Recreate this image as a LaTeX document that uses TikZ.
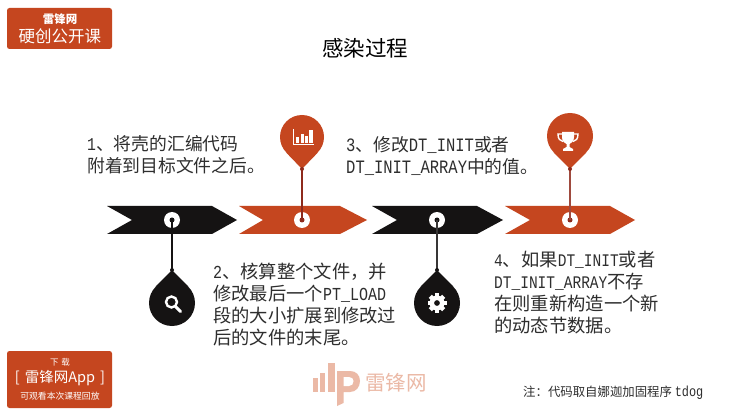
\documentclass[tikz,border=0pt]{standalone}
\usepackage{fontspec}
\setmainfont{Noto Sans CJK SC}
\newfontfamily\lat[FakeStretch=0.82]{Liberation Mono}
\definecolor{brand}{HTML}{C5461F}
\definecolor{ink}{HTML}{151313}
\definecolor{wire}{HTML}{8E2A1C}
\definecolor{wm}{HTML}{EBB9A6}
\definecolor{txt}{HTML}{2E2E2E}
\newcommand{\fsA}{\fontsize{17.8}{24}\selectfont}
\newcommand{\fsB}{\fontsize{18.3}{24}\selectfont}
\newcommand{\la}[2][18]{{\lat\fontsize{#1}{24}\selectfont #2}}
\tikzset{
  x=1pt,y=-1pt,
  para/.style={anchor=north west,inner sep=0pt,align=left,text=txt},
  arrowA/.style={fill=ink},
  arrowB/.style={fill=brand},
  hole/.style={circle,fill=white,inner sep=0pt,minimum size=16pt},
  head/.style={circle,inner sep=0pt,minimum size=#1},
  dotmark/.style={circle,inner sep=0pt,minimum size=5pt},
  badge/.style={fill=brand,rounded corners=2.5pt},
  badgetxt/.style={text=white,inner sep=0pt},
}
\begin{document}
\begin{tikzpicture}
\useasboundingbox (0,0) rectangle (740,417);
\fill[white] (0,0) rectangle (740,417);

% title
\node[inner sep=0pt,text=black,font=\fontsize{21.5}{24}\selectfont] (title) at (365,48) {感染过程};

% badges
\fill[badge] (7,8) rectangle (112,49);
\node[badgetxt,font=\fontsize{11.5}{14}\bfseries\selectfont] (b1) at (60,19) {雷锋网};
\node[badgetxt,font=\fontsize{16.5}{18}\selectfont] (b2) at (60,36) {硬创公开课};
\fill[badge] (7,351) rectangle (112,408);
\node[badgetxt,font=\fontsize{8.5}{10}\selectfont] (b3) at (60,362) {下\,\,载};
\node[badgetxt,font=\fontsize{14.5}{16}\selectfont] (b4) at (60,378) {[\hspace{5pt}雷锋网App\hspace{5pt}]};
\node[badgetxt,font=\fontsize{8.8}{10}\selectfont] (b5) at (60,396) {可观看本次课程回放};

% chevrons
\fill[arrowA] (107,206) -- (212,206) -- (237,220) -- (212,234) -- (107,234) -- (132,220) -- cycle;
\fill[arrowB] (239,206) -- (340,206) -- (367,220) -- (340,234) -- (239,234) -- (263,220) -- cycle;
\fill[arrowA] (372,206) -- (477,206) -- (503,220) -- (477,234) -- (372,234) -- (397,220) -- cycle;
\fill[arrowB] (505,206) -- (610,206) -- (635,220) -- (610,234) -- (505,234) -- (530,220) -- cycle;

% holes
\node[hole] (h1) at (172,220) {};
\node[hole] (h2) at (302,220) {};
\node[hole] (h3) at (437,220) {};
\node[hole] (h4) at (570,220) {};

% pin heads
\node[head=44pt,fill=brand] (p2) at (302,137) {};
\coordinate (t2) at (302,169);
\fill[brand] (p2.225) -- (t2) -- (p2.315) -- cycle;
\node[head=46pt,fill=brand] (p4) at (570,136) {};
\coordinate (t4) at (570,169);
\fill[brand] (p4.225) -- (t4) -- (p4.315) -- cycle;
\node[head=46pt,fill=ink] (p1) at (172,303) {};
\coordinate (t1) at (172,270);
\fill[ink] (p1.135) -- (t1) -- (p1.45) -- cycle;
\node[head=46pt,fill=ink] (p3) at (437,303) {};
\coordinate (t3) at (437,270);
\fill[ink] (p3.135) -- (t3) -- (p3.45) -- cycle;

% connectors
\node[dotmark,fill=ink] (d1) at (172,220) {};
\node[dotmark,fill=wire] (d2) at (302,220) {};
\node[dotmark,fill=ink] (d3) at (437,220) {};
\node[dotmark,fill=wire] (d4) at (570,220) {};
\draw[ink,line width=1.1pt] (d1.center) -- (t1);
\draw[wire,line width=1.2pt] (d2.center) -- (t2);
\draw[ink!85,line width=1.2pt] (d3.center) -- (t3);
\draw[wire!85,line width=1.3pt] (d4.center) -- (t4);
\fill[ink] (t1) circle (2);
\fill[wire] (t2) circle (2);
\fill[ink] (t3) circle (2);
\fill[wire] (t4) circle (2);

% icon: bar chart
\draw[white,line width=1pt] (293,129) -- (293,145) -- (314,145);
\fill[white] (296,137) rectangle (299,143.5);
\fill[white] (300.5,134) rectangle (303.5,143.5);
\fill[white] (305,136) rectangle (307.5,143.5);
\fill[white] (309,130) rectangle (312.5,143.5);

% icon: magnifier
\draw[white,line width=2.4pt] (171.5,302) circle (5.5);
\draw[white,line width=3pt,line cap=round] (175.5,306.5) -- (180.5,311.5);

% icon: gear
\foreach \a in {0,45,...,315}
  \fill[white,shift={(437,303)},rotate=\a] (-2.2,-9.5) rectangle (2.2,-6);
\fill[white,even odd rule] (437,303) circle (7.5) (437,303) circle (3);

% icon: trophy
\fill[white] (562,132) -- (574,132) -- (574,137) .. controls (574,142) and (571,143) .. (569.5,144) -- (569.5,147) -- (573,149) -- (573,151) -- (563,151) -- (563,149) -- (566.5,147) -- (566.5,144) .. controls (565,143) and (562,142) .. (562,137) -- cycle;
\draw[white,line width=1.4pt] (562,134) -- (558,134) .. controls (558,139) and (560,141) .. (563,141.5);
\draw[white,line width=1.4pt] (574,134) -- (578,134) .. controls (578,139) and (576,141) .. (573,141.5);

% step text
\node[para,font=\fsA] (s1) at (87,135.5) {\la{1}、将壳的汇编代码\\[-2pt]附着到目标文件之后。};
\node[para,font=\fsA] (s3) at (346,136.5) {\la[18.9]{3}、修改\la[18.9]{DT\_INIT}或者\\[-2pt]\la[18.9]{DT\_INIT\_ARRAY}中的值。};
\node[para,font=\fsB] (s2) at (213,262.5) {\la[18.3]{2}、核算整个文件\char"FF0C 并\\[-2pt]修改最后一个\la[18.3]{PT\_LOAD}\\[-2pt]段的大小扩展到修改过\\[-2pt]后的文件的末尾。};
\node[para,font=\fsB] (s4) at (494,251) {\la[17.7]{4}、如果\la[17.7]{DT\_INIT}或者\\[-2pt]\la[17.7]{DT\_INIT\_ARRAY}不存\\[-2pt]在则重新构造一个新\\[-2pt]的动态节数据。};

% watermark logo
\fill[wm] (313,378) rectangle (317.5,392);
\fill[wm] (320,373) rectangle (325,392);
\fill[wm] (328,363) rectangle (335,392);
\fill[wm] (337,371) -- (350,371) .. controls (356,371) and (360,375) .. (360,381) .. controls (360,387) and (356,392) .. (350,392) -- (343.5,392) -- (343.5,403) -- (337,406) -- cycle;
\fill[white] (343.5,377) -- (349,377) .. controls (352,377) and (353.5,379) .. (353.5,381) .. controls (353.5,384) and (352,386) .. (349,386) -- (343.5,386) -- cycle;
\node[inner sep=0pt,text=wm,font=\fontsize{20.5}{22}\selectfont] (wmt) at (396,383) {雷锋网};

% note
\node[anchor=west,inner sep=0pt,text=txt,font=\fontsize{12.4}{14}\selectfont] (note) at (523,393) {注\char"FF1A 代码取自娜迦加固程序 {\lat\fontsize{14.5}{14}\selectfont tdog}};
\end{tikzpicture}
\end{document}
